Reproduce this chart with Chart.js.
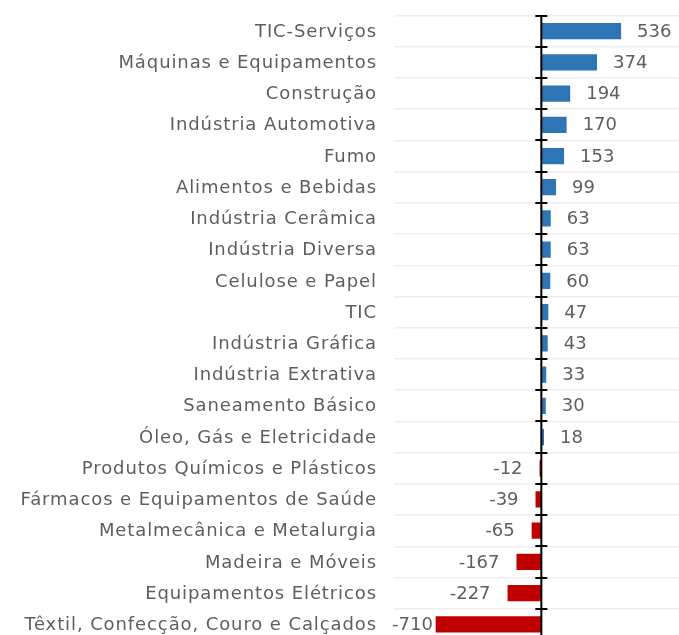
<!DOCTYPE html>
<html>
<head>
<meta charset="utf-8">
<script src="https://cdn.jsdelivr.net/npm/chart.js@4/dist/chart.umd.min.js"></script>
<style>
html,body{margin:0;padding:0;background:#fff;overflow:hidden;width:679px;height:635px;}
canvas{display:block;}
</style>
</head>
<body>
<canvas id="c" width="679" height="640" style="width:679px;height:640px"></canvas>
<script>
const categories = [
  "TIC-Serviços",
  "Máquinas e Equipamentos",
  "Construção",
  "Indústria Automotiva",
  "Fumo",
  "Alimentos e Bebidas",
  "Indústria Cerâmica",
  "Indústria Diversa",
  "Celulose e Papel",
  "TIC",
  "Indústria Gráfica",
  "Indústria Extrativa",
  "Saneamento Básico",
  "Óleo, Gás e Eletricidade",
  "Produtos Químicos e Plásticos",
  "Fármacos e Equipamentos de Saúde",
  "Metalmecânica e Metalurgia",
  "Madeira e Móveis",
  "Equipamentos Elétricos",
  "Têxtil, Confecção, Couro e Calçados"
];
const values = [536, 374, 194, 170, 153, 99, 63, 63, 60, 47, 43, 33, 30, 18, -12, -39, -65, -167, -227, -710];
const xMin = -990;
const xMax = 925;

const POS_COLOR = "#2E75B6";
const NEG_COLOR = "#C00000";
const TEXT_COLOR = "#5e5e5e";
const FONT_FAMILY = "'DejaVu Sans', sans-serif";
const FONT_SIZE = 18;

const zeroAxisPlugin = {
  id: "zeroAxis",
  afterDatasetsDraw(chart) {
    const ctx = chart.ctx;
    const x = chart.scales.x.getPixelForValue(0);
    const ys = chart.scales.y;
    const area = chart.chartArea;
    ctx.save();
    ctx.strokeStyle = "#000";
    ctx.lineWidth = 2;
    ctx.beginPath();
    ctx.moveTo(x, area.top);
    ctx.lineTo(x, area.bottom + 5);
    const n = categories.length;
    for (let i = 0; i <= n; i++) {
      const y = Math.round((ys.getPixelForValue(i - 0.5)));
      ctx.moveTo(x - 6, y);
      ctx.lineTo(x + 6, y);
    }
    ctx.stroke();
    ctx.restore();
  }
};

const textPlugin = {
  id: "texts",
  afterDatasetsDraw(chart) {
    const ctx = chart.ctx;
    const meta = chart.getDatasetMeta(0);
    const area = chart.chartArea;
    const ys = chart.scales.y;
    ctx.save();
    ctx.font = FONT_SIZE + "px " + FONT_FAMILY;
    ctx.fillStyle = TEXT_COLOR;
    ctx.textBaseline = "middle";
    // category labels
    ctx.letterSpacing = "0.9px";
    ctx.textAlign = "right";
    categories.forEach((c, i) => {
      ctx.fillText(c, area.left - 17, ys.getPixelForValue(i) + 1);
    });
    // value labels
    ctx.letterSpacing = "0px";
    meta.data.forEach((bar, i) => {
      const v = values[i];
      const txt = String(v);
      const y = bar.y + 1;
      if (v >= 0) {
        ctx.textAlign = "left";
        ctx.fillText(txt, bar.x + 16, y);
      } else {
        ctx.textAlign = "right";
        const w = ctx.measureText(txt).width;
        let xr = bar.x - 17;
        if (xr - w < area.left - 2) xr = area.left - 2 + w;
        ctx.fillText(txt, xr, y);
      }
    });
    ctx.restore();
  }
};

new Chart(document.getElementById("c"), {
  type: "bar",
  data: {
    labels: categories,
    datasets: [{
      data: values,
      backgroundColor: values.map(v => v >= 0 ? POS_COLOR : NEG_COLOR),
      borderWidth: 0,
      categoryPercentage: 1,
      barPercentage: 0.52
    }]
  },
  options: {
    indexAxis: "y",
    responsive: false,
    maintainAspectRatio: false,
    animation: false,
    layout: { padding: { top: 15.5, right: 0, bottom: 0, left: 0 } },
    plugins: { legend: { display: false }, tooltip: { enabled: false } },
    scales: {
      x: {
        display: false,
        min: xMin,
        max: xMax
      },
      y: {
        grid: { color: "#eeeeee", lineWidth: 1.5, drawTicks: false, offset: true },
        border: { display: false },
        ticks: { display: false, autoSkip: false },
        afterFit(scale) {
          scale.width = 394;
          scale.paddingTop = 0;
          scale.paddingBottom = 0;
        }
      }
    }
  },
  plugins: [zeroAxisPlugin, textPlugin]
});
</script>
</body>
</html>
